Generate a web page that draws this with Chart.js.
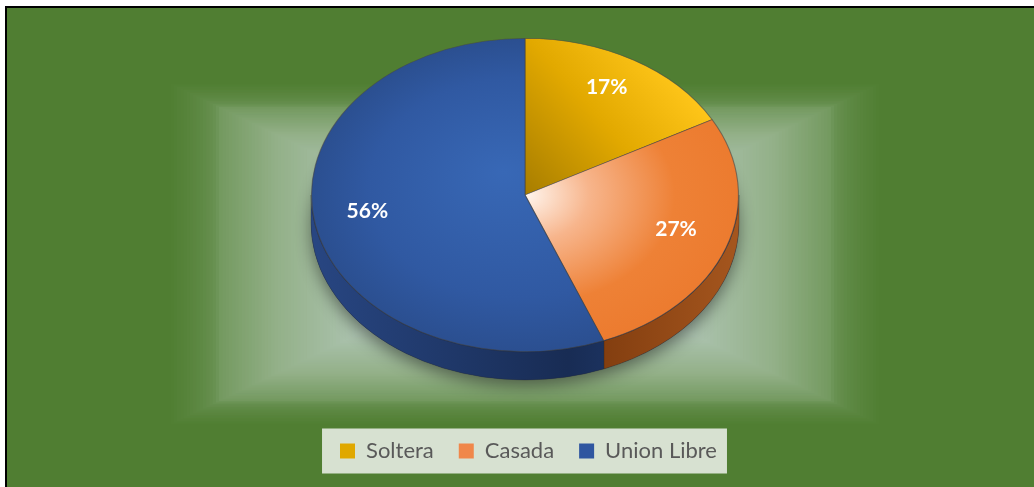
<!DOCTYPE html>
<html>
<head>
<meta charset="utf-8">
<script src="https://cdn.jsdelivr.net/npm/chart.js@4.4.1/dist/chart.umd.min.js"></script>
<style>
  html, body { margin: 0; padding: 0; background: #fff; }
  #frame {
    position: absolute; left: 5px; top: 6px;
    width: 1027px; height: 479px;
    border-left: 2px solid #000; border-top: 2px solid #000;
    background: #507e32;
  }
  canvas { display: block; }
</style>
</head>
<body>
<div id="frame"><canvas id="pie" width="1027" height="479"></canvas></div>
<script>
// data
const categories = ['Soltera', 'Casada', 'Union Libre'];
const shares = [17, 27, 56];
const shareLabels = ['17%', '27%', '56%'];

// look
const solidColors = ['#e0a800', '#f0874a', '#2f56a0'];
const CX = 518, CY = 187, RX = 214, RY = 157, DEPTH = 28;

function pieGeom(chart) {
  const a = chart.chartArea;
  return { x: (a.left + a.right) / 2, y: (a.top + a.bottom) / 2,
           r: Math.min(a.right - a.left, a.bottom - a.top) / 2 };
}

function faceColor(c) {
  const chart = c.chart, i = c.dataIndex;
  if (!chart.chartArea) return solidColors[i];
  const g = pieGeom(chart), ctx = chart.ctx;
  let grad;
  if (i === 0) {
    grad = ctx.createLinearGradient(g.x, g.y, g.x + g.r * 0.85, g.y - g.r * 0.55);
    grad.addColorStop(0, '#a77d00');
    grad.addColorStop(0.55, '#e2a900');
    grad.addColorStop(1, '#ffc61a');
  } else if (i === 1) {
    grad = ctx.createRadialGradient(g.x, g.y, 0, g.x, g.y, g.r);
    grad.addColorStop(0, '#fff6ef');
    grad.addColorStop(0.3, '#f7b58c');
    grad.addColorStop(0.7, '#ee8136');
    grad.addColorStop(1, '#ec7b2f');
  } else {
    grad = ctx.createRadialGradient(g.x - g.r * 0.1, g.y - g.r * 0.15, 0, g.x, g.y, g.r);
    grad.addColorStop(0, '#3868b6');
    grad.addColorStop(0.7, '#3059a2');
    grad.addColorStop(1, '#2b4f90');
  }
  return grad;
}

function mix(a, b, t) {
  const pa = a.match(/\w\w/g).map(h => parseInt(h, 16));
  const pb = b.match(/\w\w/g).map(h => parseInt(h, 16));
  return 'rgb(' + pa.map((v, k) => Math.round(v + (pb[k] - v) * t)).join(',') + ')';
}
const glowStops = [[0, 'cddcd4'], [0.4, 'b4c9bc'], [0.7, '93b088'], [0.86, '73995f'], [1, '507e32']];
function glowAt(s) {
  for (let k = 1; k < glowStops.length; k++) {
    if (s <= glowStops[k][0]) {
      const [s0, c0] = glowStops[k - 1], [s1, c1] = glowStops[k];
      let t = (s - s0) / (s1 - s0);
      if (k === glowStops.length - 1) t = Math.sqrt(t);
      return mix(c0, c1, t);
    }
  }
  return '#507e32';
}

const backdrop = {
  id: 'backdrop',
  beforeDraw(chart) {
    const ctx = chart.ctx;
    ctx.save();
    ctx.fillStyle = '#507e32';
    ctx.fillRect(0, 0, chart.width, chart.height);
    const gx = 518, gy = 246, hw = 358, hh = 172, n = 110;
    for (let k = 0; k < n; k++) {
      const s = 1 - k / n;
      ctx.fillStyle = glowAt(s);
      ctx.fillRect(gx - hw * s, gy - hh * s, 2 * hw * s, 2 * hh * s);
    }
    // legend panel
    const boxes = chart.legend.legendHitBoxes;
    if (boxes && boxes.length) {
      const first = boxes[0], last = boxes[boxes.length - 1];
      const l = first.left - 18, r = last.left + last.width + 10;
      const t = first.top + first.height / 2 - 22.5;
      ctx.fillStyle = '#d7e1d1';
      ctx.fillRect(l, t, r - l, 45);
    }
    ctx.restore();
  }
};

function sideBand(ctx, a0, a1) {
  ctx.beginPath();
  ctx.ellipse(CX, CY, RX, RY, 0, a0, a1);
  ctx.ellipse(CX, CY + DEPTH, RX, RY, 0, a1, a0, true);
  ctx.closePath();
}

const tilt = {
  id: 'tilt',
  beforeDatasetsDraw(chart) {
    const ctx = chart.ctx;
    const arcs = chart.getDatasetMeta(0).data;
    const g = pieGeom(chart);
    // drop shadow under the disc
    ctx.save();
    ctx.shadowColor = 'rgba(0,0,0,0.45)';
    ctx.shadowBlur = 16;
    ctx.shadowOffsetY = 6;
    ctx.fillStyle = '#1d3563';
    ctx.beginPath();
    ctx.ellipse(CX, CY + DEPTH, RX, RY, 0, 0, Math.PI * 2);
    ctx.fill();
    ctx.restore();
    // visible side walls (front half)
    const sideFills = [
      ['#8a6400', '#6e5000'],
      ['#a5561e', '#7a380c'],
      ['#284682', '#182c54']
    ];
    arcs.forEach((arc, i) => {
      const a0 = Math.max(arc.startAngle, 0), a1 = Math.min(arc.endAngle, Math.PI);
      if (a1 <= a0) return;
      const grad = ctx.createLinearGradient(CX - RX, 0, CX + RX, 0);
      grad.addColorStop(0, sideFills[i][0]);
      grad.addColorStop(0.6, sideFills[i][1]);
      grad.addColorStop(1, sideFills[i][0]);
      ctx.fillStyle = grad;
      sideBand(ctx, a0, a1);
      ctx.fill();
      ctx.strokeStyle = 'rgba(40,40,40,0.35)';
      ctx.lineWidth = 0.8;
      ctx.stroke();
    });
    // squash the top face into an ellipse
    ctx.save();
    ctx.translate(CX, CY);
    ctx.scale(RX / g.r, RY / g.r);
    ctx.translate(-g.x, -g.y);
  },
  afterDatasetsDraw(chart) {
    const ctx = chart.ctx;
    ctx.restore();
    ctx.save();
    ctx.fillStyle = '#ffffff';
    ctx.font = 'bold 21px Lato';
    ctx.textAlign = 'center';
    ctx.textBaseline = 'middle';
    chart.getDatasetMeta(0).data.forEach((arc, i) => {
      const mid = (arc.startAngle + arc.endAngle) / 2;
      const f = 0.75;
      ctx.fillText(shareLabels[i], CX + RX * f * Math.cos(mid), CY - 6 + RY * f * Math.sin(mid));
    });
    ctx.restore();
  }
};

new Chart(document.getElementById('pie'), {
  type: 'pie',
  data: {
    labels: categories,
    datasets: [{
      data: shares,
      backgroundColor: faceColor,
      borderColor: 'rgba(70,70,70,0.6)',
      borderWidth: 1,
      clip: false
    }]
  },
  options: {
    responsive: false,
    animation: false,
    devicePixelRatio: 1,
    layout: { padding: { top: 10, bottom: 15, left: 16 } },
    plugins: {
      tooltip: { enabled: false },
      legend: {
        position: 'bottom',
        labels: {
          boxWidth: 15,
          boxHeight: 15,
          padding: 25,
          color: '#595959',
          font: { family: 'Lato', size: 22 },
          generateLabels(chart) {
            const items = Chart.overrides.pie.plugins.legend.labels.generateLabels(chart);
            items.forEach((it, i) => { it.fillStyle = solidColors[i]; it.strokeStyle = solidColors[i]; it.lineWidth = 0; });
            return items;
          }
        }
      }
    }
  },
  plugins: [backdrop, tilt]
});
</script>
</body>
</html>
